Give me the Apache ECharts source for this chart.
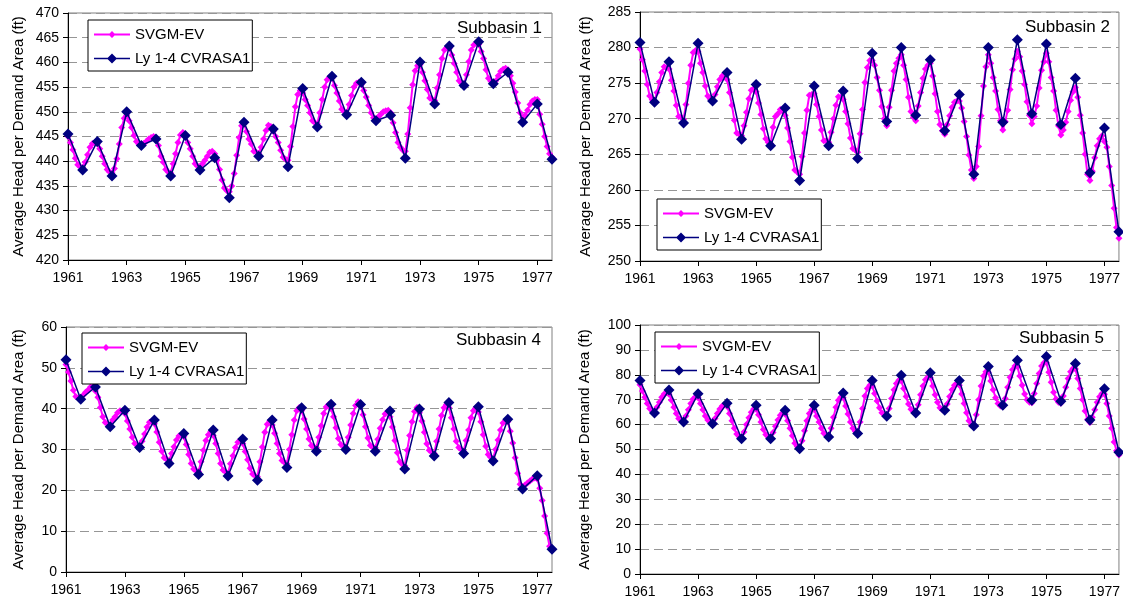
<!DOCTYPE html>
<html><head><meta charset="utf-8">
<script src="https://cdn.jsdelivr.net/npm/echarts@6/dist/echarts.min.js"></script>
<style>html,body{margin:0;padding:0;background:#fff}#c{width:1123px;height:607px}</style>
</head><body><div id="c"></div>
<script>
// ---------------- DATA ----------------
const startYear = 1961;           // first sample: Jan 1961
const seriesNames = ['SVGM-EV', 'Ly 1-4 CVRASA1'];
const panelTitles = ['Subbasin 1', 'Subbasin 2', 'Subbasin 4', 'Subbasin 5'];
const yAxisName = 'Average Head per Demand Area (ft)';

// SVGM-EV: monthly values, Jan 1961 .. Jul 1977 (199 values)
const s1Svgm = [
 445.0,443.8,442.3,440.6,439.3,438.9, 438.7,439.8,441.3,442.8,443.6,443.8,
 443.5,442.5,441.0,439.5,438.3,437.8, 437.6,438.5,440.5,443.5,446.8,448.7,
 449.3,448.2,446.8,445.2,444.0,443.5, 443.3,443.6,444.0,444.5,444.8,445.0,
 444.6,443.2,441.0,439.8,438.3,437.8, 437.6,439.5,441.5,443.8,445.3,445.8,
 445.4,443.8,442.5,441.0,439.5,439.0, 438.8,439.5,440.2,441.0,441.8,442.0,
 441.5,440.2,438.3,436.2,434.6,434.0, 433.8,435.0,437.5,441.2,444.8,447.2,
 447.8,446.0,444.5,443.5,442.0,441.8, 441.6,442.8,444.5,446.2,447.3,447.0,
 446.0,445.0,443.8,442.2,440.8,440.4, 440.2,443.0,447.0,451.0,453.5,454.3,
 453.8,452.5,451.3,449.8,448.2,447.8, 447.6,449.8,452.5,455.0,456.5,457.0,
 456.8,455.3,453.8,452.2,450.5,450.0, 449.8,451.5,453.3,455.0,455.8,456.0,
 455.5,454.3,453.0,451.3,449.8,448.8, 448.6,449.0,449.5,450.0,450.2,450.3,
 449.8,447.8,445.8,443.8,442.8,442.2, 442.0,445.5,450.8,455.5,458.3,459.3,
 459.5,458.0,456.3,454.5,452.8,452.5, 452.3,454.8,457.5,460.8,462.5,463.0,
 462.8,461.5,459.8,458.0,456.3,455.8, 455.6,457.5,460.2,462.5,463.5,464.0,
 463.6,462.2,460.8,458.5,456.8,456.2, 456.0,456.3,457.3,458.2,458.6,458.8,
 458.5,457.3,455.8,454.0,451.8,449.8, 448.8,449.3,450.3,451.5,452.2,452.5,
 452.5,449.5,447.5,445.0,443.0,441.5,
 440.8];
const s2Svgm = [
 279.8,278.3,276.7,274.8,273.2,272.7, 272.5,273.7,275.2,276.5,277.3,277.2,
 277.0,275.4,273.9,271.9,270.3,270.2, 269.9,272.0,275.0,277.5,279.3,279.6,
 279.4,277.8,276.5,274.6,273.2,272.8, 272.6,273.4,274.5,275.5,276.0,276.4,
 275.5,273.7,271.9,269.8,268.0,267.8, 267.6,269.0,270.9,272.8,274.0,274.2,
 273.8,272.2,270.6,268.6,267.2,266.7, 266.5,268.8,270.3,270.7,271.3,271.0,
 270.5,268.7,266.8,264.6,262.8,262.5, 262.2,264.7,268.0,271.2,273.3,273.4,
 273.5,272.0,270.3,268.4,266.9,266.9, 266.7,268.1,270.0,271.9,273.1,273.0,
 272.7,271.0,269.3,267.3,265.8,265.6, 265.3,267.9,271.3,275.1,277.2,278.2,
 278.2,277.5,275.8,274.0,271.7,270.0, 269.0,271.6,274.0,276.7,277.8,278.5,
 279.0,277.5,275.5,273.0,271.0,270.2, 269.7,271.8,273.7,275.7,277.0,277.5,
 277.8,276.0,273.5,271.0,269.2,268.3, 267.8,269.2,270.4,271.6,272.3,272.5,
 272.5,271.5,269.6,267.5,264.9,262.8, 261.6,263.3,266.1,270.4,274.6,277.3,
 279.0,277.8,275.8,273.9,271.3,269.7, 268.4,269.6,271.2,274.1,276.9,278.4,
 279.5,278.7,276.7,274.8,272.4,270.5, 269.3,270.3,271.8,274.3,276.8,278.0,
 279.2,278.0,275.8,273.9,271.2,269.0, 267.7,268.4,269.5,271.0,272.6,273.8,
 274.4,273.0,270.5,268.0,265.0,262.2, 261.3,262.6,264.5,266.2,267.2,267.6,
 266.8,266.0,263.3,260.6,257.4,254.7,
 253.2];
const s4Svgm = [
 50.8,49.0,46.8,44.5,43.0,42.6, 42.4,43.3,44.0,44.6,45.3,45.4,
 44.3,42.8,40.3,38.0,36.6,36.3, 36.0,37.2,38.0,39.0,39.5,39.4,
 38.8,37.0,35.0,33.0,31.5,31.1, 30.9,32.0,33.8,35.5,36.7,37.0,
 36.3,34.3,31.8,29.6,28.0,27.6, 27.3,29.0,30.7,32.3,33.3,33.6,
 33.1,31.2,28.8,26.6,25.2,24.8, 24.6,27.0,29.8,32.2,33.6,34.4,
 33.4,31.5,29.0,26.6,25.0,24.5, 24.2,26.5,28.5,30.5,31.8,32.3,
 31.5,29.5,27.5,25.4,24.0,23.6, 23.3,27.0,30.6,34.2,36.2,37.0,
 36.0,34.0,31.5,29.0,27.3,26.8, 26.5,30.0,33.6,37.2,39.5,40.3,
 39.5,37.5,35.0,32.6,31.0,30.6, 30.4,33.0,35.8,38.8,40.4,41.0,
 40.0,38.0,35.3,32.7,31.2,30.8, 30.6,33.0,36.0,38.8,40.8,41.7,
 40.8,38.5,35.6,32.8,31.0,30.6, 30.4,32.5,35.2,37.3,38.7,39.3,
 38.0,35.5,32.2,29.2,27.0,26.4, 26.0,29.8,33.4,36.8,39.3,40.3,
 39.0,37.0,34.2,31.4,29.8,29.3, 29.0,32.0,35.0,38.3,40.2,41.0,
 40.3,37.8,35.0,32.0,30.5,30.0, 29.6,32.2,34.8,37.8,39.5,40.2,
 39.2,36.8,33.6,30.8,28.8,28.1, 27.8,30.0,32.3,34.8,36.5,37.0,
 36.8,34.5,31.6,28.0,24.2,21.5, 20.8,21.3,21.8,22.3,22.8,23.0,
 22.8,20.5,17.5,13.7,9.5,6.3,
 5.6];
const s5Svgm = [
 76.0,73.5,71.0,68.5,66.5,65.6, 65.3,67.0,69.0,71.0,72.3,72.8,
 72.2,69.8,67.0,64.5,62.5,61.8, 61.5,63.5,66.0,68.5,70.3,71.2,
 70.8,68.5,66.0,63.5,61.8,61.0, 60.8,62.5,64.5,66.3,67.5,68.0,
 67.3,64.5,61.5,58.5,56.2,55.2, 54.8,57.0,60.0,62.8,65.0,66.3,
 66.2,64.0,61.0,58.0,56.0,55.2, 54.8,56.8,59.3,61.8,63.8,64.8,
 64.2,61.5,58.5,55.5,52.5,51.2, 50.8,53.5,57.5,61.5,64.5,66.0,
 66.0,63.5,61.0,58.5,56.5,55.8, 55.5,58.5,63.0,67.0,69.8,71.0,
 70.8,67.5,64.3,61.0,58.5,57.3, 57.0,61.0,66.5,71.5,74.5,75.8,
 75.5,72.5,69.5,66.8,64.8,64.0, 63.8,66.5,70.5,74.0,76.5,77.8,
 77.5,74.5,71.3,68.3,66.2,65.3, 65.0,68.0,72.0,75.5,78.0,79.0,
 78.8,75.5,72.0,69.0,66.8,66.0, 65.6,68.3,71.3,74.0,75.8,76.5,
 75.8,72.3,68.5,64.8,61.5,59.6, 59.3,64.0,70.0,75.5,79.5,81.2,
 81.0,77.5,74.0,70.8,68.5,67.5, 67.2,70.5,75.0,79.0,82.0,83.5,
 83.3,79.5,75.8,72.3,70.0,69.0, 68.8,72.5,76.5,80.5,83.5,84.8,
 84.8,81.0,77.0,73.0,70.3,69.0, 68.6,71.5,75.0,78.5,81.2,82.5,
 82.3,78.5,74.5,70.0,65.5,62.0, 60.8,63.0,66.0,69.0,71.2,72.5,
 72.2,68.5,63.5,58.5,53.0,49.5,
 47.8];

// Ly 1-4 CVRASA1: semi-annual values (Jan / Jul), Jan 1961 .. Jul 1977 (34 values)
const s1Ly = [445.5,438.2,444.0,437.0,450.0,443.2,444.5,437.0,445.2,438.2,440.7,432.6,
 447.9,441.0,446.5,438.9,454.7,446.9,457.2,449.4,456.0,448.2,449.3,440.6,
 460.1,451.6,463.3,455.3,464.2,455.7,458.0,447.9,451.6,440.4];
const s2Ly = [280.7,272.3,278.0,269.4,280.6,272.5,276.5,267.1,274.8,266.2,271.5,261.3,
 274.6,266.2,273.9,264.4,279.2,269.6,280.0,270.5,278.3,268.3,273.4,262.2,
 280.0,269.5,281.1,270.7,280.5,269.2,275.7,262.4,268.7,254.1];
const s4Ly = [52.0,42.3,45.3,35.6,39.6,30.5,37.2,26.6,33.9,23.9,34.8,23.5,
 32.6,22.5,37.2,25.6,40.2,29.6,41.1,30.0,41.0,29.6,39.4,25.2,
 39.9,28.4,41.5,29.0,40.5,27.2,37.4,20.3,23.6,5.6];
const s5Ly = [77.7,64.7,73.9,61.0,72.4,60.3,68.6,54.3,67.8,54.3,65.8,50.3,
 67.8,55.0,72.7,56.4,77.7,63.4,79.8,64.7,80.8,65.8,77.7,59.4,
 83.3,67.8,85.8,69.8,87.3,69.4,84.5,61.8,74.4,48.9];

// axis ranges
const yRanges = [[420,470,5],[250,285,5],[0,60,10],[0,100,10]];
const xRange = [1961, 1977.5, 2];

// ---------------- LAYOUT / STYLE ----------------
const FONT = '"Liberation Sans", Arial, sans-serif';
const layouts = [
  {grid:{left:68, top:13, width:484, height:247}, nameGap:42, legend:{left:88, top:20},  title:{right:581, top:20}},
  {grid:{left:640,top:12, width:480, height:249}, nameGap:47, legend:{left:657,top:199}, title:{right:13,  top:19}},
  {grid:{left:66, top:327,width:486, height:245}, nameGap:40, legend:{left:82, top:333}, title:{right:582, top:332}},
  {grid:{left:640,top:325,width:480, height:249}, nameGap:48, legend:{left:655,top:332}, title:{right:19,  top:330}}
];
const svgmData = [s1Svgm, s2Svgm, s4Svgm, s5Svgm];
const lyData = [s1Ly, s2Ly, s4Ly, s5Ly];

const MAG = '#FF00FF', NAVY = '#000080';
// legend icons: line + diamond (36 x 12 box, corner points fix the bounding box)
const corners = 'M0 0 L0.01 0 L0 0.01 Z M36 12 L35.99 12 L36 11.99 Z ';
const iconMag = 'path://' + corners + 'M0 5 L36 5 L36 7 L0 7 Z M18 2.5 L21.5 6 L18 9.5 L14.5 6 Z';
const iconNavy = 'path://' + corners + 'M0 5.25 L36 5.25 L36 6.75 L0 6.75 Z M18 1 L23 6 L18 11 L13 6 Z';

const toMonthly = arr => arr.map((v, i) => [startYear + i / 12, v]);
const toSemi = arr => arr.map((v, i) => [startYear + i / 2, v]);

const option = {animation:false, backgroundColor:'#fff', textStyle:{fontFamily:FONT},
  grid:[], xAxis:[], yAxis:[], series:[], legend:[], title:[]};

layouts.forEach((L, k) => {
  option.grid.push(Object.assign({show:true, borderColor:'#808080', borderWidth:1, backgroundColor:'#fff'}, L.grid));
  option.xAxis.push({type:'value', gridIndex:k, min:xRange[0], max:xRange[1], interval:xRange[2],
    axisLine:{show:true, onZero:false, lineStyle:{color:'#000', width:1}},
    axisTick:{show:true, length:5, lineStyle:{color:'#000'}},
    axisLabel:{color:'#000', fontSize:14, fontFamily:FONT, margin:11, showMaxLabel:false,
      formatter: v => String(Math.round(v))},
    splitLine:{show:false}});
  const yr = yRanges[k];
  option.yAxis.push({type:'value', gridIndex:k, min:yr[0], max:yr[1], interval:yr[2],
    name:yAxisName, nameLocation:'middle', nameGap:L.nameGap, nameRotate:90,
    nameTextStyle:{color:'#000', fontSize:15, fontFamily:FONT},
    axisLine:{show:true, lineStyle:{color:'#000', width:1}},
    axisTick:{show:true, length:5, lineStyle:{color:'#000'}},
    axisLabel:{color:'#000', fontSize:14, fontFamily:FONT, margin:9},
    splitLine:{show:true, lineStyle:{color:'#969696', width:1, type:[9,5]}}});
  option.series.push({type:'line', name:seriesNames[0], xAxisIndex:k, yAxisIndex:k,
    data:toMonthly(svgmData[k]), symbol:'diamond', symbolSize:7, z:2,
    lineStyle:{color:MAG, width:2}, itemStyle:{color:MAG}, emphasis:{disabled:true}});
  option.series.push({type:'line', name:seriesNames[1], xAxisIndex:k, yAxisIndex:k,
    data:toSemi(lyData[k]), symbol:'diamond', symbolSize:11, z:3,
    lineStyle:{color:NAVY, width:1.5}, itemStyle:{color:NAVY}, emphasis:{disabled:true}});
  option.legend.push({left:L.legend.left, top:L.legend.top, orient:'vertical',
    backgroundColor:'#fff', borderColor:'#000', borderWidth:1, padding:[6,2,4,6],
    itemWidth:36, itemHeight:12, itemGap:7, selectedMode:false,
    itemStyle:{borderWidth:0},
    textStyle:{color:'#000', fontSize:15, fontFamily:FONT, lineHeight:17},
    data:[{name:seriesNames[0], icon:iconMag}, {name:seriesNames[1], icon:iconNavy}]});
  option.title.push({text:panelTitles[k], right:L.title.right, top:L.title.top, padding:0,
    textStyle:{color:'#000', fontSize:17, fontWeight:'normal', fontFamily:FONT}});
});

const chart = echarts.init(document.getElementById('c'), null, {renderer:'canvas'});
chart.setOption(option);
</script>
</body></html>
